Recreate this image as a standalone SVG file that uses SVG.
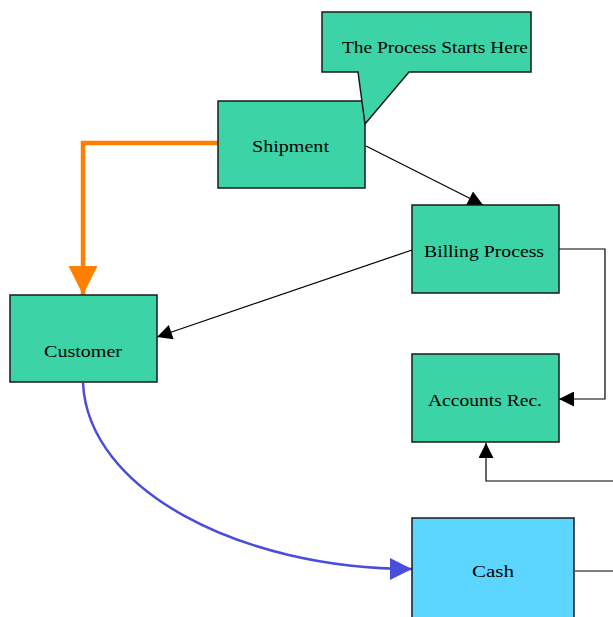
<svg xmlns="http://www.w3.org/2000/svg" width="613" height="617" viewBox="0 0 613 617">
<defs>
<style>
.box{fill:#3cd3a7;stroke:#1a1a1a;stroke-width:1.5}
.cash{fill:#5cd6ff;stroke:#1a1a1a;stroke-width:1.5}
.lbl{font-family:"Liberation Serif","Times New Roman",serif;font-size:16px;fill:#000;text-anchor:start}
.thin{fill:none;stroke:#000;stroke-width:1.2}
</style>
<marker id="ab" viewBox="0 0 10 10" refX="10" refY="5" markerWidth="18" markerHeight="15" markerUnits="userSpaceOnUse" orient="auto"><path d="M0,0 L10,5 L0,10 Z" fill="#000"/></marker>
<marker id="ao" viewBox="0 0 10 10" refX="10" refY="5" markerWidth="29" markerHeight="30" markerUnits="userSpaceOnUse" orient="auto"><path d="M0,0 L10,5 L0,10 Z" fill="#ff7f00"/></marker>
<marker id="abl" viewBox="0 0 10 10" refX="10" refY="5" markerWidth="24" markerHeight="22" markerUnits="userSpaceOnUse" orient="auto"><path d="M0,0 L10,5 L0,10 Z" fill="#4a4ddc"/></marker>
</defs>
<rect width="613" height="617" fill="#fff"/>
<g id="connectors">
<path d="M218,143 H83 V295" fill="none" stroke="#ff7f00" stroke-width="4.5" marker-end="url(#ao)"/>
<path d="M366,146 L483,205" class="thin" marker-end="url(#ab)"/>
<path d="M412,250 L157,337" class="thin" marker-end="url(#ab)"/>
<path d="M559,249 H605 V399 H559" class="thin" marker-end="url(#ab)"/>
<path d="M613,481 H486 V443" class="thin" marker-end="url(#ab)"/>
<path d="M575,571 H613" class="thin"/>
<path d="M83,383 C88,490 240,569 412,569" fill="none" stroke="#4a4ddc" stroke-width="2.5" marker-end="url(#abl)"/>
</g>
<g id="shipment">
<rect x="218" y="101" width="147" height="87" class="box"/>
<text class="lbl" x="252" y="152" textLength="77" lengthAdjust="spacingAndGlyphs">Shipment</text>
</g>
<g id="callout">
<path d="M322,12 H531 V72 H409 L365,124 L358,72 H322 Z" class="box"/>
<text class="lbl" x="342" y="53" textLength="186" lengthAdjust="spacingAndGlyphs">The Process Starts Here</text>
</g>
<g id="billing">
<rect x="412" y="205" width="147" height="88" class="box"/>
<text class="lbl" x="424" y="257" textLength="120" lengthAdjust="spacingAndGlyphs">Billing Process</text>
</g>
<g id="customer">
<rect x="10" y="295" width="147" height="87" class="box"/>
<text class="lbl" x="44" y="357" textLength="78" lengthAdjust="spacingAndGlyphs">Customer</text>
</g>
<g id="accounts">
<rect x="412" y="354" width="147" height="88" class="box"/>
<text class="lbl" x="428" y="406" textLength="114" lengthAdjust="spacingAndGlyphs">Accounts Rec.</text>
</g>
<g id="cash">
<rect x="412" y="518" width="162" height="110" class="cash"/>
<text class="lbl" x="472" y="577" textLength="42" lengthAdjust="spacingAndGlyphs">Cash</text>
</g>
</svg>
